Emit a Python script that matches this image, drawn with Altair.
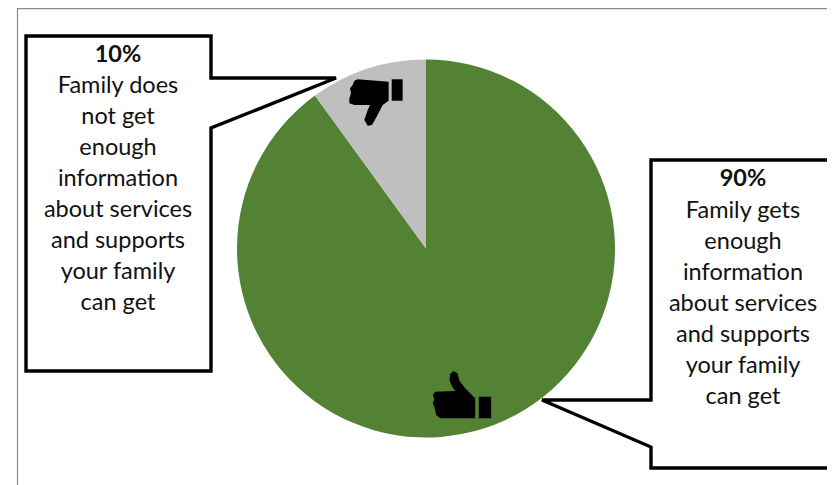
import altair as alt
import pandas as pd

# pie values
slice_names = ["Family gets enough information", "Family does not get enough information"]
slice_values = [90, 10]
slice_colors = ["#548235", "#BFBFBF"]
pie_cx, pie_cy, pie_r = 426, 248.5, 189

# callout outlines, in picture pixels
left_x = [26, 211, 211, 336, 211, 211, 26, 26]
left_y = [36, 36, 78, 78, 128, 371, 371, 36]
right_x = [840, 651, 651, 542, 651, 651, 840]
right_y = [160, 160, 400, 400, 447, 468, 468]
frame_x = [17.5, 17.5, 840]
frame_y = [490, 8.7, 8.7]

# callout text
left_lines = ["10%", "Family does", "not get", "enough", "information", "about services", "and supports", "your family", "can get"]
right_lines = ["90%", "Family gets", "enough", "information", "about services", "and supports", "your family", "can get"]
left_text_y = [55, 86, 117, 148, 179, 210, 241, 272, 303]
right_text_y = [179, 211, 242, 273, 304, 335, 366, 397]
left_text_x, right_text_x = 118, 743

# thumb outlines (picture pixels relative to icon centre)
up_pts = [(176,110),(213,110),(213,175),(176,175),(176,110),(165,115),(150,100),(135,85),(118,62),(112,40),(100,33),
          (90,42),(88,60),(95,78),(105,93),(45,95),(38,105),(42,118),(38,130),(43,142),(45,150),(48,165),(60,175),(165,175),(165,115)]
down_pts = [(277,58),(310,58),(310,122),(277,122),(277,58),(268,65),(175,58),(165,62),(160,75),(152,85),(155,100),(150,115),
            (150,130),(165,135),(212,135),(205,150),(195,180),(205,197),(218,195),(232,170),(250,135),(268,122),(268,65)]


def to_path(pts, cx, cy, half):
    return "M" + "L".join(f"{(x-cx)/half:.3f},{(y-cy)/half:.3f}" for x, y in pts) + "Z"


up_path = to_path(up_pts[:4], 125.5, 105, 87) + to_path(up_pts[5:], 125.5, 105, 87)
down_path = to_path(down_pts[:4], 230, 127.5, 80) + to_path(down_pts[5:], 230, 127.5, 80)

xs = alt.Scale(domain=[8, 827], range=[0, 819], zero=False, nice=False)
ys = alt.Scale(domain=[485, 8], range=[477, 0], zero=False, nice=False)
X = lambda f="x": alt.X(f"{f}:Q", scale=xs, axis=None)
Y = lambda f="y": alt.Y(f"{f}:Q", scale=ys, axis=None)

pie_df = pd.DataFrame({"name": slice_names, "value": slice_values, "k": [0, 1], "x": pie_cx, "y": pie_cy})
pie = alt.Chart(pie_df).mark_arc(strokeWidth=0).encode(
    x=X(), y=Y(),
    theta=alt.Theta("value:Q", stack=True),
    order=alt.Order("k:Q"),
    radius=alt.value(pie_r),
    color=alt.Color("name:N", scale=alt.Scale(domain=slice_names, range=slice_colors), legend=None),
)


def path_layer(px, py, color, width):
    df = pd.DataFrame({"x": px, "y": py, "i": range(len(px))})
    return alt.Chart(df).mark_line(color=color, strokeWidth=width, strokeJoin="miter", strokeCap="square", clip=False).encode(
        x=X(), y=Y(), order="i:Q")


def text_layer(lines, tx, ty):
    df = pd.DataFrame({"t": lines, "x": tx, "y": ty, "b": ["bold"] + ["normal"] * (len(lines) - 1)})
    head = alt.Chart(df[df.b == "bold"]).mark_text(font="Lato", fontSize=23.5, fontWeight="bold", color="#111111", baseline="middle", align="center")
    rest = alt.Chart(df[df.b != "bold"]).mark_text(font="Lato", fontSize=23.5, color="#111111", baseline="middle", align="center")
    enc = dict(x=X(), y=Y(), text="t:N")
    return head.encode(**enc) + rest.encode(**enc)


def icon(path, cx, cy, w):
    df = pd.DataFrame({"x": [cx], "y": [cy]})
    return alt.Chart(df).mark_point(shape=path, size=w * w, filled=True, fill="black", strokeWidth=0, opacity=1).encode(x=X(), y=Y())


chart = alt.layer(
    path_layer(frame_x, frame_y, "#8c8c8c", 1.2),
    pie,
    path_layer(left_x, left_y, "black", 3.4),
    path_layer(right_x, right_y, "black", 3.4),
    text_layer(left_lines, left_text_x, left_text_y),
    text_layer(right_lines, right_text_x, right_text_y),
    icon(up_path, 462, 395, 58),
    icon(down_path, 376, 102.5, 53.3),
).properties(width=819, height=477, padding=0, autosize=alt.AutoSizeParams(type="none"), background="white"
).configure_view(stroke=None)

chart.save("out.html", embed_options={"renderer": "svg", "actions": False})
